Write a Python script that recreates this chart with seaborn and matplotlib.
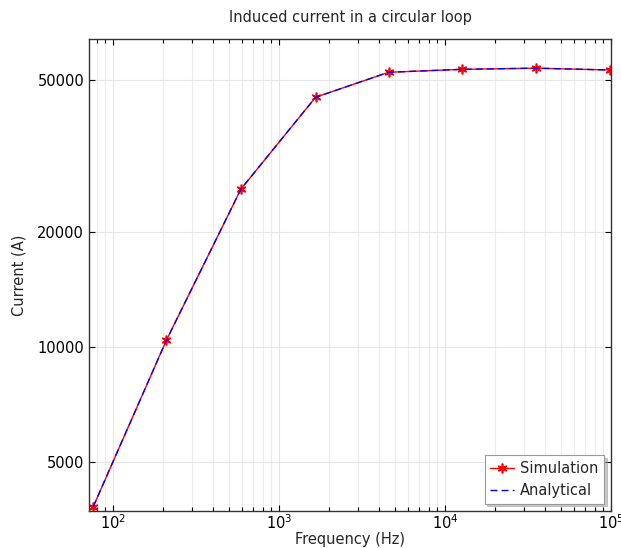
import matplotlib
matplotlib.use("Agg")
import matplotlib.pyplot as plt
import matplotlib.ticker as mticker
import seaborn as sns
import pandas as pd
import numpy as np

freq = [76, 210, 590, 1660, 4570, 12700, 35200, 98000]
simulation = [3810, 10410, 25870, 44980, 52290, 53230, 53600, 53020]
analytical = [3810, 10410, 25870, 44980, 52290, 53230, 53600, 53020]
ytick_vals = [5000, 10000, 20000, 50000]

sns.set_theme(style="white")
plt.rcParams['font.family'] = ['DejaVu Sans']

df_sim = pd.DataFrame({"Frequency (Hz)": freq, "Current (A)": simulation})
df_ana = pd.DataFrame({"Frequency (Hz)": freq, "Current (A)": analytical})

fig = plt.figure(figsize=(6.21, 5.48), dpi=100)
ax = fig.add_axes([0.1433, 0.0675, 0.8407, 0.8613])

sns.lineplot(data=df_sim, x="Frequency (Hz)", y="Current (A)", ax=ax,
             color="#ff0000", linewidth=1.0, marker=(6, 2, 0), markersize=7,
             markeredgecolor="#ff0000", markeredgewidth=1.2, label="Simulation")
sns.lineplot(data=df_ana, x="Frequency (Hz)", y="Current (A)", ax=ax,
             color="#0000ff", linewidth=1.0, linestyle=(0, (5, 3)), label="Analytical")

ax.set_xscale("log")
ax.set_yscale("log")
ax.set_xlim(71.7, 1.0e5)
ax.set_ylim(3715, 63900)

ax.yaxis.set_major_locator(mticker.FixedLocator(ytick_vals))
ax.yaxis.set_major_formatter(mticker.FixedFormatter([str(v) for v in ytick_vals]))
ax.yaxis.set_minor_locator(mticker.NullLocator())
ax.xaxis.set_major_locator(mticker.LogLocator(base=10))
ax.xaxis.set_minor_locator(mticker.LogLocator(base=10, subs=np.arange(2, 10)))
ax.xaxis.set_minor_formatter(mticker.NullFormatter())

ax.grid(True, which="major", axis="both", color="#e6e6e6", linewidth=0.8)
ax.grid(True, which="minor", axis="x", color="#ececec", linewidth=0.8)

ax.tick_params(axis="both", which="both", direction="in", top=True, right=True,
               bottom=True, left=True, labelsize=10.5, colors="#000000")
ax.tick_params(axis="both", which="major", length=4, width=0.8)
ax.tick_params(axis="both", which="minor", length=3, width=0.8)
ax.tick_params(axis="x", which="major", pad=2)

for sp in ax.spines.values():
    sp.set_color("#333333")
    sp.set_linewidth(1.0)

ax.set_xlabel("Frequency (Hz)", fontsize=10.5, labelpad=0)
ax.set_ylabel("Current (A)", fontsize=10.5, labelpad=8)
ax.set_title("Induced current in a circular loop", fontsize=10.5, pad=12)

leg = ax.legend(loc="lower right", fontsize=10.5, frameon=True, fancybox=False,
                shadow={'color': '0.6', 'alpha': 0.5, 'ox': 2, 'oy': -2},
                borderpad=0.4, handlelength=1.6, handletextpad=0.4,
                labelspacing=0.45, borderaxespad=0.5)
leg.get_frame().set_edgecolor("#999999")
leg.get_frame().set_linewidth(0.8)

fig.savefig("out.png", dpi=100)
